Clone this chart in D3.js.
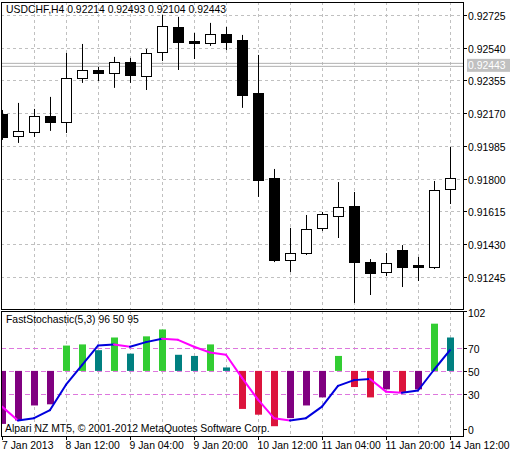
<!DOCTYPE html>
<html><head><meta charset="utf-8">
<script src="https://cdn.jsdelivr.net/npm/d3@7"></script>
<style>body{margin:0;background:#fff}svg text{font-family:"Liberation Sans",Arial,sans-serif;font-size:10.4px;fill:#000}</style>
</head><body><svg id="c" width="516" height="457"></svg>
<script>
const opens =[0.92166,0.92041,0.92064,0.92154,0.92120,0.92369,0.92414,0.92397,0.92459,0.92380,0.92516,0.92657,0.92578,0.92567,0.92618,0.92584,0.92284,0.91804,0.91341,0.91380,0.91522,0.91589,0.91646,0.91329,0.91273,0.91397,0.91313,0.91301,0.91742];
const highs =[0.92188,0.92228,0.92194,0.92262,0.92510,0.92561,0.92431,0.92488,0.92482,0.92533,0.92725,0.92714,0.92623,0.92680,0.92657,0.92612,0.92499,0.91855,0.91522,0.91595,0.91612,0.91781,0.91725,0.91346,0.91380,0.91425,0.91358,0.91787,0.91979];
const lows  =[0.92019,0.92002,0.92036,0.92070,0.92058,0.92341,0.92352,0.92313,0.92341,0.92301,0.92465,0.92414,0.92476,0.92550,0.92527,0.92200,0.91697,0.91329,0.91273,0.91369,0.91505,0.91465,0.91098,0.91143,0.91250,0.91188,0.91222,0.91290,0.91657];
const closes=[0.92036,0.92070,0.92154,0.92120,0.92369,0.92414,0.92397,0.92459,0.92386,0.92510,0.92663,0.92572,0.92567,0.92618,0.92572,0.92273,0.91793,0.91341,0.91380,0.91516,0.91601,0.91640,0.91329,0.91267,0.91324,0.91301,0.91301,0.91736,0.91804];
const histVals=[4,7,20,21,72,73,68,79,65,80,86,64,63,73,53,17,12,2,9,20,27,63,36,27,34,31,34,91,79];
const histColors=["purple","purple","purple","purple","green","green","teal","green","teal","green","green","teal","teal","green","teal","red","red","red","purple","purple","purple","green","red","red","purple","red","purple","green","teal"];
const signal=[19,7,9,16,38,55,72,73,71,75,78,77,71,66,64,44,25,9,7,9,19,37,42,43,32,31,33,51,68];
const priceTicks=[0.92725,0.92540,0.92355,0.92170,0.91985,0.91800,0.91615,0.91430,0.91245];
const stochTicks=[102,70,50,30,0];
const levels=[70,50,30];
const timeLabels=[[0,"7 Jan 2013"],[4,"8 Jan 12:00"],[8,"9 Jan 04:00"],[12,"9 Jan 20:00"],[16,"10 Jan 12:00"],[20,"11 Jan 04:00"],[24,"11 Jan 20:00"],[28,"14 Jan 12:00"]];
const bidPrice=0.92443;

const svg=d3.select("#c");
const L=1,R=463,T1=2,B1=309,T2=311,B2=436;
const x=d3.scaleLinear().domain([0,28]).range([2,450]);
const y=d3.scaleLinear().domain([0.91064,0.92798]).range([B1,T1]);
const ys=d3.scaleLinear().domain([-6.5,102]).range([B2,T2]);
const colMap={green:"#32cd32",teal:"#008080",purple:"#800080",red:"#dc143c"};
const idx=d3.range(closes.length);

svg.append("defs").html(`<clipPath id="c1"><rect x="${L}" y="${T1}" width="${R-L}" height="${B1-T1}"/></clipPath><clipPath id="c2"><rect x="${L}" y="${T2}" width="${R-L}" height="${B2-T2}"/></clipPath>`);
const g1=svg.append("g").attr("clip-path","url(#c1)");
const g2=svg.append("g").attr("clip-path","url(#c2)");
const grid="#c0c0c0";
priceTicks.forEach(p=>g1.append("line").attr("x1",L).attr("x2",R).attr("y1",Math.round(y(p))+.5).attr("y2",Math.round(y(p))+.5).attr("stroke",grid).attr("stroke-dasharray","3,3"));
idx.filter(i=>i%2==0&&i>0).forEach(i=>{
  [g1,g2].forEach((g,k)=>g.append("line").attr("x1",Math.round(x(i))+.5).attr("x2",Math.round(x(i))+.5).attr("y1",k?T2:T1).attr("y2",k?B2:B1).attr("stroke",grid).attr("stroke-dasharray","3,3"));
});
[-1.5,1.5].forEach(d=>g1.append("line").attr("x1",L).attr("x2",R).attr("y1",y(bidPrice)+d).attr("y2",y(bidPrice)+d).attr("stroke","#b0b0b0"));
idx.forEach(i=>{
  const cx=Math.round(x(i))+.5;
  g1.append("line").attr("x1",cx).attr("x2",cx).attr("y1",y(highs[i])).attr("y2",y(lows[i])).attr("stroke","#000");
  const top=y(Math.max(opens[i],closes[i])),bot=y(Math.min(opens[i],closes[i]));
  const up=closes[i]>opens[i];
  g1.append("rect").attr("x",cx-5).attr("y",Math.round(top)+.5).attr("width",10).attr("height",Math.max(1,Math.round(bot-top)))
    .attr("fill",up?"#fff":"#000").attr("stroke","#000");
});
levels.forEach(v=>g2.append("line").attr("x1",L).attr("x2",R).attr("y1",Math.round(ys(v))+.5).attr("y2",Math.round(ys(v))+.5).attr("stroke","#dd77dd").attr("stroke-dasharray","5,3"));
idx.forEach(i=>{
  const a=ys(50),b=ys(histVals[i]);
  g2.append("rect").attr("x",Math.round(x(i))-3).attr("y",Math.min(a,b)).attr("width",7).attr("height",Math.abs(a-b)).attr("fill",colMap[histColors[i]]);
});
for(let i=1;i<signal.length;i++){
  g2.append("line").attr("x1",x(i-1)).attr("y1",ys(signal[i-1])).attr("x2",x(i)).attr("y2",ys(signal[i]))
    .attr("stroke",signal[i]>=signal[i-1]?"#0000dd":"#ff00ff").attr("stroke-width",2).attr("stroke-linecap","round");
}
svg.append("rect").attr("x",L+.5).attr("y",T1+.5).attr("width",R-L).attr("height",B1-T1).attr("fill","none").attr("stroke","#000");
svg.append("rect").attr("x",L+.5).attr("y",T2+.5).attr("width",R-L).attr("height",B2-T2).attr("fill","none").attr("stroke","#000");
priceTicks.forEach(p=>{const yy=Math.round(y(p))+.5;
  svg.append("line").attr("x1",R).attr("x2",R+4).attr("y1",yy).attr("y2",yy).attr("stroke","#000");
  svg.append("text").attr("x",R+5).attr("y",yy+4).text(p.toFixed(5));});
svg.append("rect").attr("x",R+4).attr("y",y(bidPrice)-6).attr("width",43).attr("height",13).attr("fill","#c0c0c0");
svg.append("text").attr("x",R+5).attr("y",y(bidPrice)+4).style("fill","#fff").text(bidPrice.toFixed(5));
stochTicks.forEach(v=>{const yy=Math.round(ys(v))+.5;
  svg.append("line").attr("x1",R).attr("x2",R+4).attr("y1",yy).attr("y2",yy).attr("stroke","#000");
  svg.append("text").attr("x",R+5).attr("y",yy+(v==102?5:4)).text(v);});
timeLabels.forEach(([i,t])=>{const xx=Math.round(x(i))+.5;
  svg.append("line").attr("x1",xx).attr("x2",xx).attr("y1",B2).attr("y2",B2+4).attr("stroke","#000");
  svg.append("text").attr("x",Math.max(2,xx-1)).attr("y",449).text(t);});
svg.append("text").attr("x",6).attr("y",13).text("USDCHF,H4  0.92214 0.92493 0.92104 0.92443");
svg.append("text").attr("x",6).attr("y",323).text("FastStochastic(5,3) 96 50 95");
svg.append("text").attr("x",5).attr("y",432).text("Alpari NZ MT5, © 2001-2012 MetaQuotes Software Corp.");
</script></body></html>
